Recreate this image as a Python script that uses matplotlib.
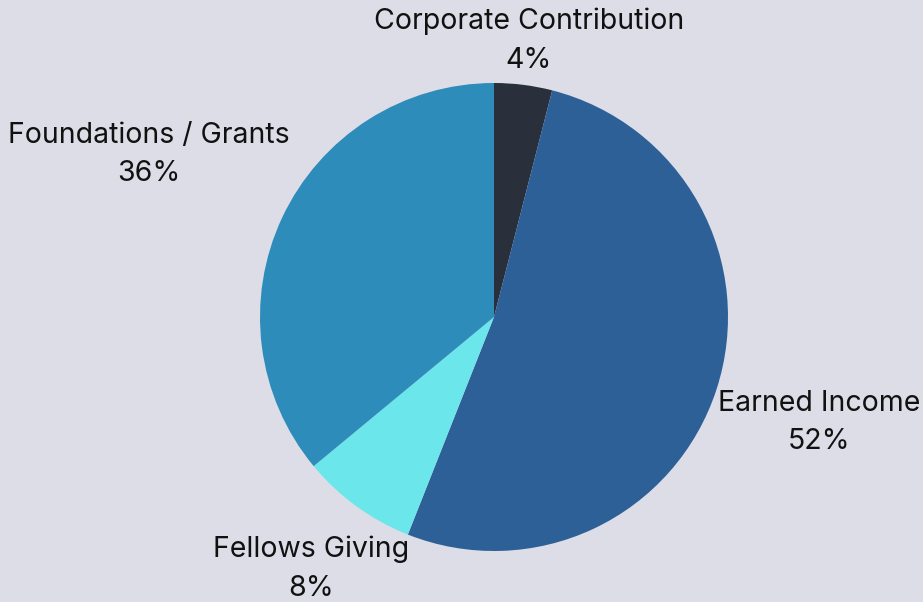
import matplotlib
matplotlib.use('Agg')
import matplotlib.pyplot as plt
import numpy as np

categories = ['Corporate Contribution', 'Earned Income', 'Fellows Giving', 'Foundations / Grants']
shares = [4, 52, 8, 36]
colors = ['#2a303b', '#2e6098', '#6be6ea', '#2e8cba']
# radial distance of each label centre, in units of the pie radius
label_dist = [1.19, 1.46, 1.33, 1.63]

bg = '#dcdde7'
plt.rcParams['font.family'] = ['Inter', 'DejaVu Sans']

fig = plt.figure(figsize=(9.23, 6.02), dpi=100)
fig.patch.set_facecolor(bg)

cx, cy, r = 494, 317, 234  # pie centre and radius in pixels
ax = fig.add_axes([(cx - r) / 923, (602 - cy - r) / 602, 2 * r / 923, 2 * r / 602])
ax.set_facecolor(bg)

wedges, _ = ax.pie(shares, colors=colors, startangle=90, counterclock=False,
                   radius=1.0, wedgeprops={'linewidth': 0})
ax.set_xlim(-1, 1)
ax.set_ylim(-1, 1)
ax.set_aspect('equal')
ax.axis('off')

for w, name, s, d in zip(wedges, categories, shares, label_dist):
    mid = np.deg2rad((w.theta1 + w.theta2) / 2)
    ax.text(d * np.cos(mid), d * np.sin(mid), '%s\n%d%%' % (name, s),
            ha='center', va='center', fontsize=20.5, color='#111111',
            linespacing=1.55, clip_on=False)

fig.savefig('out.png', dpi=100, facecolor=bg)
